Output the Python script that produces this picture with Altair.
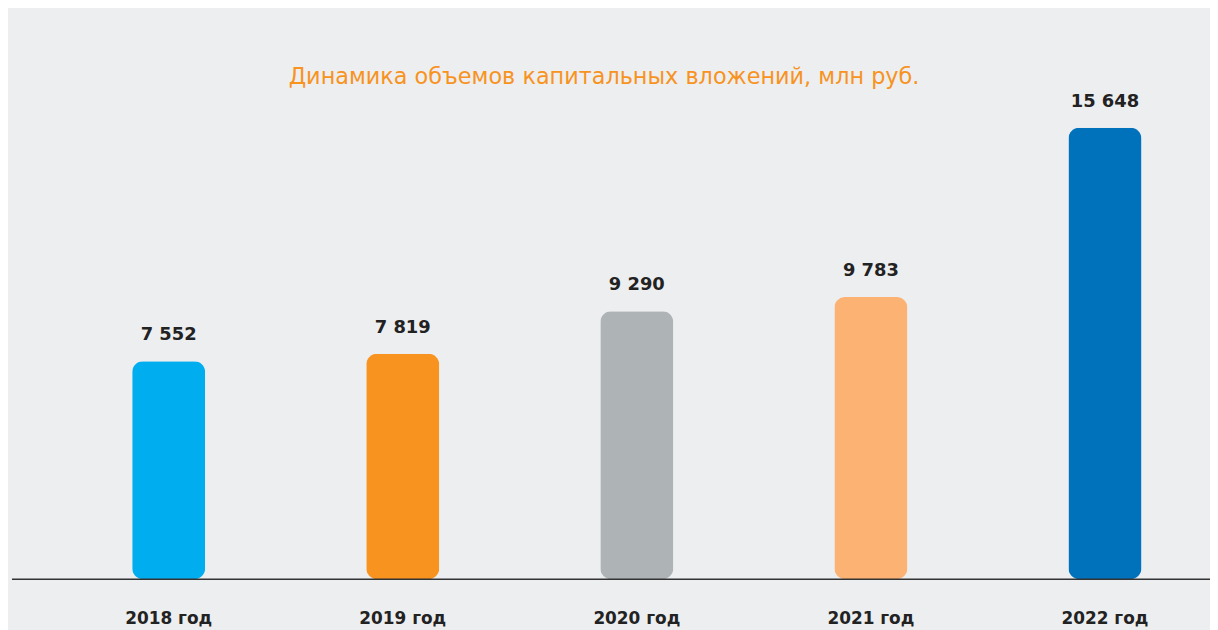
import altair as alt
import pandas as pd

years = ["2018 год", "2019 год", "2020 год", "2021 год", "2022 год"]
values = [7552, 7819, 9290, 9783, 15648]
labels = ["7 552", "7 819", "9 290", "9 783", "15 648"]
colors = ["#00aeef", "#f7931e", "#aeb3b6", "#fbb273", "#0072bc"]
title_text = "Динамика объемов капитальных вложений, млн руб."

df = pd.DataFrame({"year": years, "value": values, "label": labels, "color": colors})

LEFT = 125
W, H = 1016, 573
RIGHT = 1210 - LEFT - W
xscale = alt.Scale(domain=years, paddingInner=0.688, paddingOuter=0)
yscale = alt.Scale(domain=[0, 19725], nice=False, zero=True)

base = alt.Chart(df)

bars = base.mark_bar(cornerRadius=11).encode(
    x=alt.X("year:N", scale=xscale, sort=years,
            axis=alt.Axis(title=None, domain=False, ticks=False, labelAngle=0,
                          labelFont="DejaVu Sans", labelFontWeight="bold",
                          labelFontSize=17, labelColor="#222222", labelPadding=32)),
    y=alt.Y("value:Q", scale=yscale, axis=None),
    color=alt.Color("color:N", scale=None, legend=None),
)

vals = base.mark_text(font="DejaVu Sans", fontWeight="bold", fontSize=18,
                      color="#222222", baseline="middle", dy=-26).encode(
    x=alt.X("year:N", scale=xscale, sort=years),
    y=alt.Y("value:Q", scale=yscale),
    text="label:N",
)

baseline = alt.Chart(pd.DataFrame({"v": [0]})).mark_rule(color="#333333", strokeWidth=1.5).encode(
    x=alt.value(12 - 8 - LEFT), x2=alt.value(W + RIGHT), y=alt.value(H),
)

title = alt.Chart(pd.DataFrame({"t": [title_text]})).mark_text(
    font="DejaVu Sans", fontSize=22.5, color="#f7931e", baseline="middle", align="center"
).encode(x=alt.value(608 - 8 - LEFT), y=alt.value(67), text="t:N")

chart = alt.layer(bars, vals, baseline, title).properties(
    width=W, height=H, autosize=alt.AutoSizeParams(type="none"),
    padding={"left": LEFT, "top": 0, "right": RIGHT, "bottom": 49},
    background="#edeef0",
).configure_view(stroke=None)

chart.save("out.html", embed_options={"renderer": "svg", "actions": False})
